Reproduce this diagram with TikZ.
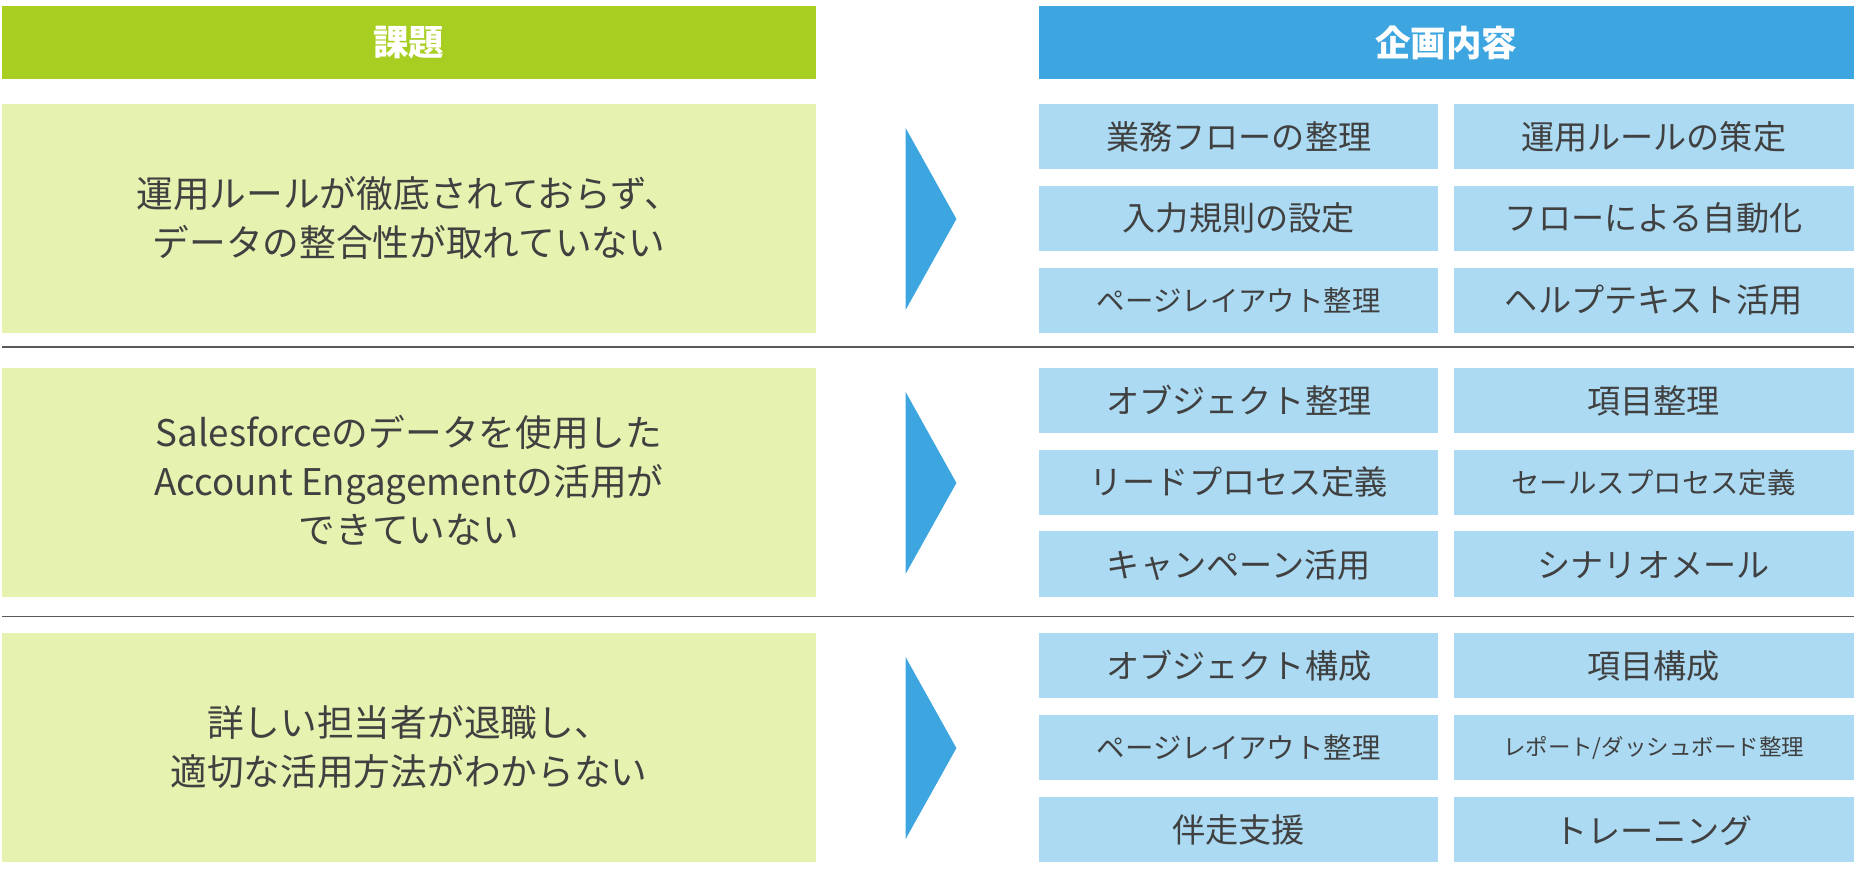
\documentclass[tikz,border=0pt]{standalone}
\usepackage{fontspec}
\setmainfont{Noto Sans CJK JP}
\newfontfamily\jpb{Noto Sans CJK JP}[BoldFont={* Bold}]
\definecolor{hgreen}{HTML}{A8CE22}
\definecolor{lgreen}{HTML}{E6F2B0}
\definecolor{hblue}{HTML}{3DA5E0}
\definecolor{lblue}{HTML}{ABDAF2}
\definecolor{txt}{HTML}{404040}
\begin{document}
\begin{tikzpicture}[x=1pt,y=-1pt,
  hdr/.style={text=white,font=\fontsize{30}{36}\selectfont\bfseries},
  issue/.style={fill=lgreen,draw=none},
  cell/.style={fill=lblue,draw=none},
  ct/.style={text=txt,font=\fontsize{28}{34}\selectfont},
  cs/.style={text=txt,font=\fontsize{24}{30}\selectfont},
  cxs/.style={text=txt,font=\fontsize{19}{24}\selectfont},
  it/.style={text=txt,align=center,font=\fontsize{31}{41}\selectfont},
  sep/.style={draw=gray!70!black,line width=1.2pt}]
\useasboundingbox (0,0) rectangle (1568,743);
\fill[hgreen] (2,5) rectangle (689,67);
\node[hdr] (h1) at (345.5,36) {課題};
\fill[hblue] (878,5) rectangle (1566,67);
\node[hdr] (h2) at (1222,36) {企画内容};
% rows
\foreach \y/\n in {88/1,311/2,535/3}{
  \fill[lgreen] (2,\y) rectangle (689,\y+193);
  \fill[hblue] (765,\y+20) -- (808,\y+97) -- (765,\y+174) -- cycle;
  \foreach \dy in {0,69,138}{
    \fill[lblue] (878,\y+\dy) rectangle (1215,\y+\dy+55);
    \fill[lblue] (1228,\y+\dy) rectangle (1566,\y+\dy+55);
  }
}
\draw[sep] (2,293) -- (1566,293);
\draw[sep] (2,521) -- (1566,521);
\node[it] (i1) at (345.5,184) {運用ルールが徹底されておらず、\\データの整合性が取れていない};
\node[it] (i2) at (345.5,406) {Salesforceのデータを使用した\\Account Engagementの活用が\\できていない};
\node[it] (i3) at (345.5,631) {詳しい担当者が退職し、\\適切な活用方法がわからない};
% cells
\node[ct] (a1) at (1046.5,115.5) {業務フローの整理};
\node[ct] (b1) at (1397,115.5) {運用ルールの策定};
\node[ct] (a2) at (1046.5,184.5) {入力規則の設定};
\node[ct] (b2) at (1397,184.5) {フローによる自動化};
\node[cs] (a3) at (1046.5,253.5) {ページレイアウト整理};
\node[ct] (b3) at (1397,253.5) {ヘルプテキスト活用};
\node[ct] (a4) at (1046.5,338.5) {オブジェクト整理};
\node[ct] (b4) at (1397,338.5) {項目整理};
\node[ct] (a5) at (1046.5,407.5) {リードプロセス定義};
\node[cs] (b5) at (1397,407.5) {セールスプロセス定義};
\node[ct] (a6) at (1046.5,477.5) {キャンペーン活用};
\node[ct] (b6) at (1397,477.5) {シナリオメール};
\node[ct] (a7) at (1046.5,562.5) {オブジェクト構成};
\node[ct] (b7) at (1397,562.5) {項目構成};
\node[cs] (a8) at (1046.5,631.5) {ページレイアウト整理};
\node[cxs] (b8) at (1397,631.5) {レポート/ダッシュボード整理};
\node[ct] (a9) at (1046.5,701.5) {伴走支援};
\node[ct] (b9) at (1397,701.5) {トレーニング};
\end{tikzpicture}
\end{document}
